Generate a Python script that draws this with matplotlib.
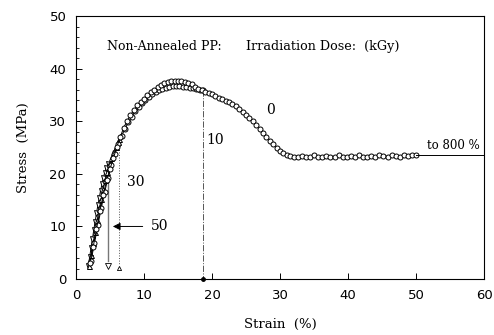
import numpy as np
import matplotlib.pyplot as plt
from matplotlib.ticker import MultipleLocator

# 0 kGy (runs out to the plateau)
strain_0 = [2.0, 2.5, 3.0, 3.5, 4.0, 4.5, 5.0, 5.5, 6.0, 6.5, 7.0, 7.5, 8.0, 8.5, 9.0,
            9.5, 10.0, 10.5, 11.0, 11.5, 12.0, 12.5, 13.0, 13.5, 14.0, 14.5, 15.0, 15.5,
            16.0, 16.5, 17.0, 17.5, 18.0, 18.5, 19.0, 19.5, 20.0, 20.5, 21.0, 21.5, 22.0,
            22.5, 23.0, 23.5, 24.0, 24.5, 25.0, 25.5, 26.0, 26.5, 27.0, 27.5, 28.0, 28.5,
            29.0, 29.5, 30.0, 30.5, 31.0, 31.5, 32.0, 32.6, 33.2, 33.8, 34.4, 35.0, 35.6,
            36.2, 36.8, 37.4, 38.0, 38.6, 39.2, 39.8, 40.4, 41.0, 41.6, 42.2, 42.8, 43.4,
            44.0, 44.6, 45.2, 45.8, 46.4, 47.0, 47.6, 48.2, 48.8, 49.4, 50.0]
stress_0 = [3.0, 6.0, 9.5, 13.0, 16.0, 18.8, 21.0, 23.0, 25.2, 27.0, 28.8, 30.0, 31.2, 32.1, 33.0,
            33.7, 34.3, 34.9, 35.5, 36.0, 36.5, 36.9, 37.2, 37.4, 37.6, 37.7, 37.7, 37.6,
            37.5, 37.3, 37.0, 36.6, 36.2, 35.9, 35.6, 35.4, 35.1, 34.8, 34.5, 34.2, 33.9,
            33.6, 33.3, 32.9, 32.4, 31.8, 31.2, 30.6, 30.0, 29.3, 28.6, 27.8, 27.1, 26.3,
            25.6, 24.9, 24.3, 23.9, 23.6, 23.4, 23.3, 23.2, 23.4, 23.2, 23.3, 23.5, 23.2,
            23.3, 23.4, 23.2, 23.3, 23.5, 23.3, 23.2, 23.4, 23.3, 23.5, 23.3, 23.2, 23.4,
            23.3, 23.5, 23.4, 23.3, 23.5, 23.4, 23.3, 23.5, 23.4, 23.5, 23.5]

# 10 kGy (breaks near 18.6 %)
strain_10 = [2.2, 2.7, 3.2, 3.7, 4.2, 4.7, 5.2, 5.7, 6.2, 6.7, 7.2, 7.7, 8.2, 8.7, 9.2, 9.7,
             10.2, 10.7, 11.2, 11.7, 12.2, 12.7, 13.2, 13.7, 14.2, 14.7, 15.2, 15.7, 16.2,
             16.7, 17.2, 17.7, 18.2, 18.6]
stress_10 = [3.5, 6.8, 10.2, 13.5, 16.5, 19.3, 21.6, 23.7, 25.6, 27.2, 28.6, 29.8, 30.9, 31.9,
             32.7, 33.4, 34.0, 34.6, 35.1, 35.5, 35.9, 36.2, 36.4, 36.6, 36.7, 36.7, 36.7,
             36.6, 36.5, 36.4, 36.3, 36.2, 36.0, 35.9]

# 30 kGy
strain_30 = [1.9, 2.2, 2.5, 2.8, 3.1, 3.4, 3.7, 4.0, 4.3, 4.6, 4.9, 5.2, 5.5, 5.8, 6.1, 6.3]
stress_30 = [2.5, 4.5, 6.8, 9.0, 11.2, 13.3, 15.3, 17.2, 18.9, 20.4, 21.8, 23.0, 24.1, 25.1, 26.0, 26.6]

# 50 kGy
strain_50 = [1.8, 2.0, 2.2, 2.4, 2.6, 2.8, 3.0, 3.2, 3.4, 3.6, 3.8, 4.0, 4.2, 4.4, 4.7]
stress_50 = [2.5, 4.2, 5.9, 7.6, 9.3, 10.9, 12.5, 14.0, 15.4, 16.8, 18.0, 19.2, 20.2, 21.1, 21.8]

plateau_stress = 23.5
serif = 'DejaVu Serif'

fig = plt.figure(figsize=(4.94, 3.35), dpi=100)
ax = fig.add_axes([0.154, 0.167, 0.826, 0.785])

# broken samples: drop lines to the axis
ax.plot([strain_50[-1], strain_50[-1]], [stress_50[-1], 3.4], color='#777777', lw=1.0, zorder=1)
ax.plot(strain_50[-1], 2.4, marker='v', ms=4.5, mfc='white', mec='black', mew=0.6, ls='none')
ax.plot([strain_30[-1], strain_30[-1]], [stress_30[-1], 2.8], color='#555555', lw=0.7, ls=':', zorder=1)
ax.plot(strain_30[-1], 2.1, marker='^', ms=3, mfc='white', mec='black', mew=0.6, ls='none')
ax.plot([strain_10[-1], strain_10[-1]], [stress_10[-1], 0], color='#555555', lw=0.7, ls='-.', zorder=1)
ax.plot(strain_10[-1], 0, marker='o', ms=2.5, color='black', ls='none', clip_on=False)

kw = dict(ms=3.6, mfc='white', mec='black', mew=0.7, lw=0.7, color='black')
ax.plot(strain_50, stress_50, marker='v', **kw)
ax.plot(strain_30, stress_30, marker='^', **kw)
ax.plot(strain_10, stress_10, marker='o', **kw)
ax.plot(strain_0, stress_0, marker='o', **kw)
ax.plot([strain_0[-1], 60], [plateau_stress, plateau_stress], color='black', lw=0.7)

# labels on the plot
ax.text(4.5, 44.3, 'Non-Annealed PP:', family=serif, fontsize=9, va='center')
ax.text(25.0, 44.3, 'Irradiation Dose:  (kGy)', family=serif, fontsize=9.2, va='center')
ax.text(28.0, 32.1, '0', family=serif, fontsize=10, va='center')
ax.text(19.1, 26.4, '10', family=serif, fontsize=10, va='center')
ax.text(7.5, 18.4, '30', family=serif, fontsize=10, va='center')
ax.text(11.0, 10.0, '50', family=serif, fontsize=10, va='center')
ax.text(51.6, 25.3, 'to 800 %', family=serif, fontsize=8.5, va='center')
ax.annotate('', xy=(5.0, 10.0), xytext=(10.2, 10.0),
            arrowprops=dict(arrowstyle='-|>', color='black', lw=0.7, mutation_scale=11))

ax.set_xlim(0, 60)
ax.set_ylim(0, 50)
ax.xaxis.set_major_locator(MultipleLocator(10))
ax.yaxis.set_major_locator(MultipleLocator(10))
ax.yaxis.set_minor_locator(MultipleLocator(2))
ax.tick_params(direction='in', length=4, width=0.7, labelsize=9.5, pad=7)
ax.tick_params(which='minor', direction='in', length=2.5, width=0.6)
for sp in ax.spines.values():
    sp.set_linewidth(0.8)

ax.set_xlabel('Strain  (%)', family=serif, fontsize=9.5, labelpad=12)
ax.set_ylabel('Stress  (MPa)', family=serif, fontsize=9.5, labelpad=14)

fig.savefig('out.png', dpi=100)
